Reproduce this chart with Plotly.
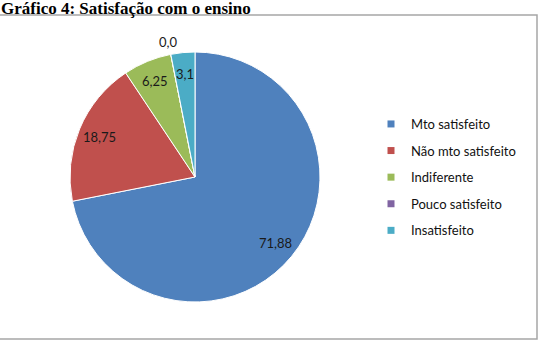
import math
import plotly.graph_objects as go

categories = ["Mto satisfeito", "Não mto satisfeito", "Indiferente", "Pouco satisfeito", "Insatisfeito"]
values = [71.88, 18.75, 6.25, 0.0, 3.1]
value_labels = ["71,88", "18,75", "6,25", "0,0", "3,1"]
colors = ["#4F81BD", "#C0504D", "#9BBB59", "#8064A2", "#4BACC6"]

W, H = 540, 347
# pie geometry in pixels
cx_px, cy_px, r_px = 195, 177, 125
dom_x = [(cx_px - r_px) / W, (cx_px + r_px) / W]
dom_y = [(H - cy_px - r_px) / H, (H - cy_px + r_px) / H]

fig = go.Figure()
fig.add_trace(go.Pie(
    labels=categories, values=values, sort=False, direction="clockwise", rotation=0,
    marker=dict(colors=colors, line=dict(color="white", width=1)),
    textinfo="none", hoverinfo="label+value", showlegend=False,
    domain=dict(x=dom_x, y=dom_y),
))

# legend entries (square markers)
for i, (cat, col) in enumerate(zip(categories, colors)):
    fig.add_trace(go.Scatter(
        x=[None], y=[None], mode="markers", name=cat, legendgroup=f"g{i}",
        marker=dict(symbol="square", size=7, color=col),
    ))

# data labels computed from slice angles
total = sum(values)
annotations = []
cum = 0.0
for v, lab in zip(values, value_labels):
    mid = (cum + v / 2) / total * 2 * math.pi
    cum += v
    rr = r_px * (0.83 if v > 0 else 1.1)
    px = cx_px + rr * math.sin(mid)
    py = cy_px - rr * math.cos(mid)
    annotations.append(dict(
        x=px / W, y=1 - py / H, xref="paper", yref="paper", text=lab, showarrow=False,
        font=dict(family="Lato", size=13, color="#1a1a1a"), xanchor="center", yanchor="middle",
    ))

annotations.append(dict(
    x=0.0, y=1 - 19.5 / H, xref="paper", yref="paper", xanchor="left", yanchor="bottom",
    text="<b>Gráfico 4: Satisfação com o ensino</b>", showarrow=False,
    font=dict(family="Liberation Serif", size=17, color="black"), borderpad=0,
))

fig.update_layout(
    width=W, height=H, margin=dict(l=0, r=0, t=0, b=0),
    paper_bgcolor="white", plot_bgcolor="white",
    xaxis=dict(visible=False), yaxis=dict(visible=False),
    annotations=annotations,
    legend=dict(x=(411 - 40) / W, y=1 - 109 / H, xanchor="left", yanchor="top",
                font=dict(family="Lato", size=13, color="#111111"),
                tracegroupgap=6.7, traceorder="grouped", bgcolor="rgba(0,0,0,0)"),
    shapes=[dict(type="rect", xref="paper", yref="paper", x0=-0.01, x1=537 / W,
                 y0=1 - 339 / H, y1=1 - 15 / H, line=dict(color="#A6A6A6", width=1.5),
                 fillcolor="rgba(0,0,0,0)", layer="below")],
)

fig.write_html("out.html")
